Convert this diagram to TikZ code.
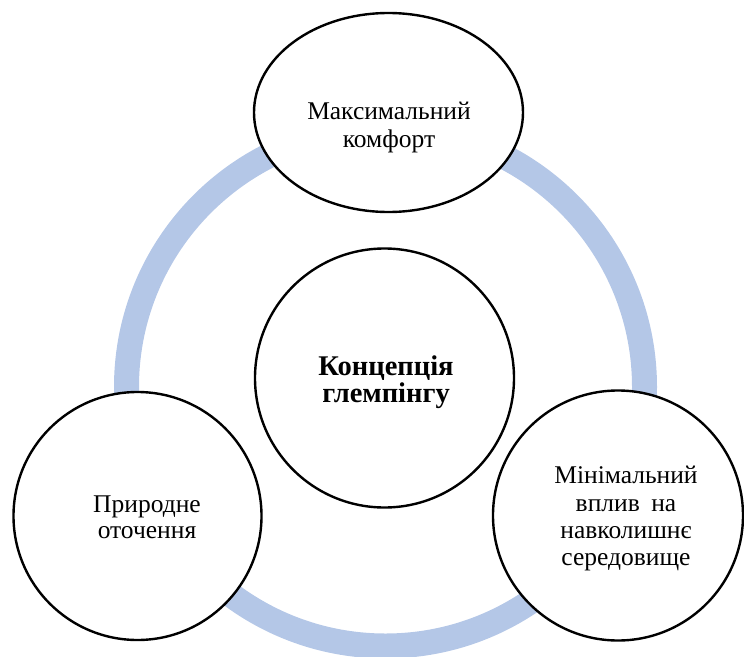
\documentclass[tikz,border=0pt]{standalone}
\usepackage{fontspec}
\setmainfont{Liberation Serif}
\begin{document}
\begin{tikzpicture}[x=1pt,y=-1pt,
  ringline/.style={draw=ringblue,line width=25pt},
  bubble/.style={draw=black,line width=2.4pt,fill=white},
  lbl/.style={anchor=base,inner sep=0pt,font=\fontsize{25.5}{27}\selectfont},
  blbl/.style={anchor=base,inner sep=0pt,font=\fontsize{28.5}{30}\selectfont\bfseries}]
\definecolor{ringblue}{HTML}{B4C7E7}
\useasboundingbox (0,0) rectangle (744,656);
\draw[ringline] (385.5,387) circle[radius=259];
\draw[bubble] (388.5,112.5) ellipse[x radius=134.5,y radius=99.5];
\draw[bubble] (384.5,378) circle[radius=129.5];
\draw[bubble] (137.5,516) circle[radius=124];
\draw[bubble] (618,515.5) circle[radius=125];
\node[lbl] (t1a) at (389,119) {Максимальний};
\node[lbl] (t1b) at (389,147) {комфорт};
\node[blbl] (t2a) at (386,375) {Концепція};
\node[blbl] (t2b) at (386,402) {глемпінгу};
\node[lbl] (t3a) at (147,512) {Природне};
\node[lbl] (t3b) at (147,538) {оточення};
\node[lbl] (t4a) at (626,483) {Мінімальний};
\node[lbl] (t4b) at (626,511) {вплив\hspace{0.45em}на};
\node[lbl] (t4c) at (626,538) {навколишнє};
\node[lbl] (t4d) at (626,565) {середовище};
\end{tikzpicture}
\end{document}
